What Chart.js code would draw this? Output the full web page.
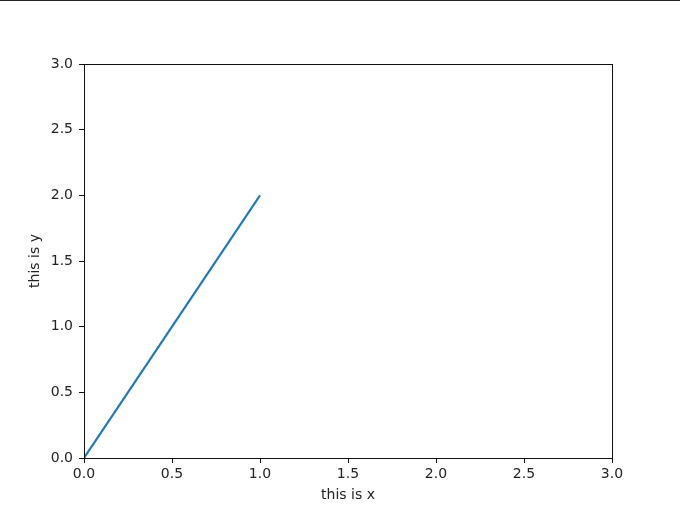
<!DOCTYPE html>
<html>
<head>
<meta charset="utf-8">
<script src="https://cdn.jsdelivr.net/npm/chart.js@4/dist/chart.umd.min.js"></script>
<style>
  html, body { margin: 0; padding: 0; background: #fff; }
  #wrap { position: relative; width: 680px; height: 510px; }
  #topline { position: absolute; left: 0; top: 0; width: 680px; height: 1px; background: #222; }
</style>
</head>
<body>
<div id="wrap">
  <canvas id="chart" width="680" height="510"></canvas>
  <div id="topline"></div>
</div>
<script>
var xValues = [0, 1];
var yValues = [0, 2];
var axisTicks = [0, 0.5, 1, 1.5, 2, 2.5, 3];
var xTitle = 'this is x';
var yTitle = 'this is y';

var fontFamily = '"DejaVu Sans", sans-serif';
var tickColor = '#222';

// box round the plot area, as matplotlib draws all four spines
var frame = {
    id: 'frame',
    afterDraw: function(chart) {
        var a = chart.chartArea;
        var ctx = chart.ctx;
        ctx.save();
        ctx.strokeStyle = '#111';
        ctx.lineWidth = 1;
        ctx.strokeRect(Math.round(a.left) + 0.5, Math.round(a.top) + 0.5,
            Math.round(a.right - a.left), Math.round(a.bottom - a.top));
        ctx.restore();
    }
};

window.onload = function() {
    var ctx = document.getElementById('chart').getContext('2d');
    var points = xValues.map(function(x, i) { return { x: x, y: yValues[i] }; });
    new Chart(ctx, {
        type: 'scatter',
        data: {
            datasets: [{
                data: points,
                showLine: true,
                borderColor: '#1f77b4',
                borderWidth: 2.1,
                pointRadius: 0,
                fill: false
            }]
        },
        options: {
            responsive: false,
            animation: false,
            layout: { padding: { left: 0, top: 64, right: 68, bottom: 0 } },
            plugins: {
                legend: { display: false },
                tooltip: { enabled: false }
            },
            scales: {
                x: {
                    type: 'linear',
                    min: 0,
                    max: 3,
                    afterBuildTicks: function(scale) {
                        scale.ticks = axisTicks.map(function(v) { return { value: v }; });
                    },
                    afterFit: function(scale) { scale.height = 52; },
                    ticks: {
                        color: tickColor,
                        padding: 3,
                        maxRotation: 0,
                        font: { family: fontFamily, size: 14 },
                        callback: function(v) { return v.toFixed(1); }
                    },
                    grid: { drawOnChartArea: false, tickLength: 5, color: '#111', lineWidth: 1 },
                    border: { color: '#111', width: 1 },
                    title: {
                        display: true,
                        text: xTitle,
                        color: tickColor,
                        font: { family: fontFamily, size: 14 },
                        padding: { top: 4, bottom: 6.5 }
                    }
                },
                y: {
                    type: 'linear',
                    min: 0,
                    max: 3,
                    afterBuildTicks: function(scale) {
                        scale.ticks = axisTicks.map(function(v) { return { value: v }; });
                    },
                    afterFit: function(scale) { scale.width = 84; },
                    ticks: {
                        color: tickColor,
                        padding: 6,
                        font: { family: fontFamily, size: 14 },
                        callback: function(v) { return v.toFixed(1); }
                    },
                    grid: { drawOnChartArea: false, tickLength: 5, color: '#111', lineWidth: 1 },
                    border: { color: '#111', width: 1 },
                    title: {
                        display: true,
                        text: yTitle,
                        color: tickColor,
                        font: { family: fontFamily, size: 14 },
                        padding: { top: 26.5, bottom: 4 }
                    }
                }
            }
        },
        plugins: [frame]
    });
};
</script>
</body>
</html>
